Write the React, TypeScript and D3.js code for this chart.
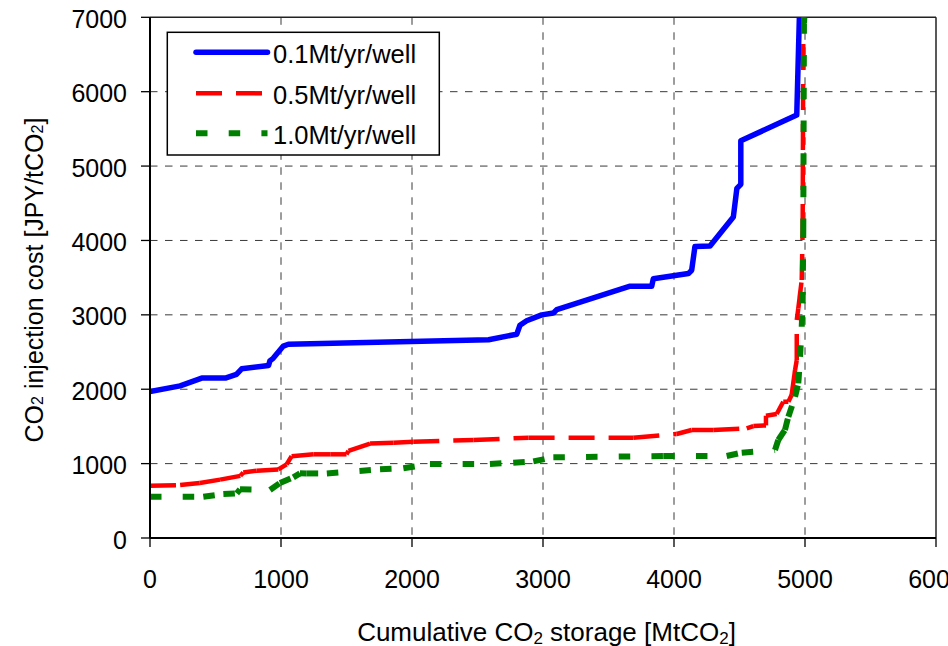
import React from "react";
import * as d3 from "d3";

// Injection cost supply curves: cumulative storage [MtCO2] vs cost [JPY/tCO2]
const rate01: [number, number][] = [
  [0, 1970], [230, 2045], [395, 2150], [575, 2150], [660, 2200], [700, 2275],
  [905, 2320], [915, 2380], [940, 2415], [1018, 2580], [1056, 2605], [2585, 2665],
  [2800, 2740], [2824, 2860], [2875, 2920], [2990, 3000], [3080, 3025], [3105, 3070],
  [3665, 3385], [3830, 3385], [3842, 3485], [4110, 3555], [4135, 3600], [4160, 3920],
  [4275, 3925], [4350, 4090], [4453, 4315], [4480, 4700], [4510, 4755], [4510, 5340],
  [4937, 5685], [4957, 7000],
];

const rate05: [number, number][] = [
  [0, 703], [230, 712], [380, 740], [535, 785], [690, 835], [712, 880], [815, 905],
  [980, 922], [1043, 990], [1081, 1100], [1250, 1125], [1380, 1125], [1500, 1125],
  [1515, 1170], [1680, 1270], [1860, 1280], [2010, 1294], [2470, 1317], [2890, 1348],
  [3690, 1348], [4020, 1398], [4135, 1452], [4300, 1452], [4555, 1474], [4606, 1505],
  [4702, 1514], [4702, 1644], [4784, 1667], [4834, 1832], [4873, 1832], [4898, 1922],
  [4924, 2258], [4937, 2392], [4937, 2930], [4949, 3087], [4975, 3468], [4982, 4140],
  [4987, 6830], [4990, 7000],
];

const rate10: [number, number][] = [
  [0, 555], [407, 555], [560, 590], [662, 600], [687, 654], [916, 645], [992, 740],
  [1094, 815], [1145, 869], [1196, 868], [1350, 868], [1756, 923], [1934, 937],
  [2137, 995], [2595, 995], [2773, 1012], [2926, 1030], [3079, 1085], [3918, 1102],
  [4402, 1102], [4517, 1147], [4771, 1183], [4796, 1317], [4847, 1452], [4873, 1630],
  [4924, 1899], [4949, 2079], [4962, 2437], [4975, 2840], [4982, 3154], [4987, 4140],
  [4992, 6918], [4995, 7000],
];

const xTicks = [0, 1000, 2000, 3000, 4000, 5000, 6000];
const yTicks = [0, 1000, 2000, 3000, 4000, 5000, 6000, 7000];
const seriesNames = ["0.1Mt/yr/well", "0.5Mt/yr/well", "1.0Mt/yr/well"];

const W = 948;
const H = 646;
const M = { left: 150, right: 936, top: 17.3, bottom: 538 };
const FONT = "'Liberation Sans', Arial, sans-serif";

const x = d3.scaleLinear().domain([0, 6000]).range([M.left, M.right]);
const y = d3.scaleLinear().domain([0, 7000]).range([M.bottom, M.top]);

const line = d3
  .line<[number, number]>()
  .x((d) => x(d[0]))
  .y((d) => y(d[1]));

type Style = { color: string; width: number; dash?: string; cap: "round" | "butt" };

const styles: Style[] = [
  { color: "#0000ff", width: 5.5, cap: "round" },
  { color: "#ff0000", width: 4.5, dash: "26,14", cap: "butt" },
  { color: "#008000", width: 6, dash: "11.5,21.2", cap: "butt" },
];

// Dashed series restart their pattern on every segment
function Series({ data, s }: { data: [number, number][]; s: Style }) {
  if (!s.dash) {
    return (
      <path
        d={line(data) ?? ""}
        fill="none"
        stroke={s.color}
        strokeWidth={s.width}
        strokeLinejoin="round"
        strokeLinecap={s.cap}
      />
    );
  }
  return (
    <g>
      {d3.pairs(data).map((p, i) => (
        <path
          key={i}
          d={line(p) ?? ""}
          fill="none"
          stroke={s.color}
          strokeWidth={s.width}
          strokeDasharray={s.dash}
          strokeLinecap={s.cap}
        />
      ))}
    </g>
  );
}

export default function App() {
  const all = [rate01, rate05, rate10];
  const legendX0 = 196;
  const legendX1 = 267.5;
  const legendY = [52.3, 93.3, 133.3];
  return (
    <svg
      width={W}
      height={H}
      style={{ position: "absolute", left: 0, top: 0, background: "#fff" }}
      fontFamily={FONT}
    >
      <rect width={W} height={H} fill="#fff" />
      <defs>
        <clipPath id="plot">
          <rect x={M.left} y={M.top} width={M.right - M.left} height={M.bottom - M.top} />
        </clipPath>
      </defs>

      {/* grid */}
      <g stroke="#3a3a3a" strokeWidth={1} strokeDasharray="7.5,7.5">
        {xTicks.slice(1, -1).map((t) => (
          <line key={"gx" + t} x1={x(t)} x2={x(t)} y1={M.top} y2={M.bottom} />
        ))}
        {yTicks.slice(1, -1).map((t) => (
          <line key={"gy" + t} x1={M.left} x2={M.right} y1={y(t)} y2={y(t)} />
        ))}
      </g>

      {/* frame */}
      <line x1={M.left} x2={M.right} y1={M.top} y2={M.top} stroke="#222" strokeWidth={1.5} />
      <line x1={M.right} x2={M.right} y1={M.top} y2={M.bottom} stroke="#222" strokeWidth={1.5} />

      {/* series */}
      <g clipPath="url(#plot)">
        {all.map((d, i) => (
          <Series key={i} data={d} s={styles[i]} />
        ))}
      </g>

      {/* axes */}
      <line x1={M.left} x2={M.left} y1={M.top} y2={M.bottom} stroke="#000" strokeWidth={2} />
      <line x1={M.left} x2={M.right} y1={M.bottom} y2={M.bottom} stroke="#000" strokeWidth={2} />
      <g stroke="#000" strokeWidth={1.3}>
        {yTicks.map((t) => (
          <line key={"ty" + t} x1={M.left - 9} x2={M.left} y1={y(t)} y2={y(t)} />
        ))}
        {xTicks.map((t) => (
          <line key={"tx" + t} x1={x(t)} x2={x(t)} y1={M.bottom} y2={M.bottom + 9} />
        ))}
      </g>

      <g fontSize={25} fill="#000">
        {yTicks.map((t) => (
          <text key={"ly" + t} x={127} y={y(t) + 10.5} textAnchor="end">
            {t}
          </text>
        ))}
        {xTicks.map((t) => (
          <text key={"lx" + t} x={x(t)} y={588} textAnchor="middle">
            {t}
          </text>
        ))}
      </g>

      {/* axis titles */}
      <text x={546.5} y={640.5} fontSize={26} textAnchor="middle">
        Cumulative CO
        <tspan fontSize={17} dy={3.5}>2</tspan>
        <tspan dy={-3.5}> storage [MtCO</tspan>
        <tspan fontSize={17} dy={3.5}>2</tspan>
        <tspan dy={-3.5}>]</tspan>
      </text>
      <text transform="translate(43,280) rotate(-90)" fontSize={25} textAnchor="middle">
        CO<tspan fontSize={16}>2</tspan> injection cost [JPY/tCO<tspan fontSize={16}>2</tspan>]
      </text>

      {/* legend */}
      <rect x={167.3} y={32.3} width={272} height={122.7} fill="#fff" stroke="#000" strokeWidth={1.5} />
      {styles.map((s, i) => (
        <g key={"lg" + i}>
          <line
            x1={legendX0}
            x2={legendX1}
            y1={legendY[i]}
            y2={legendY[i]}
            stroke={s.color}
            strokeWidth={s.width}
            strokeDasharray={s.dash}
            strokeLinecap={s.cap}
          />
          <text x={273} y={legendY[i] + 10.2} fontSize={25.5}>
            {seriesNames[i]}
          </text>
        </g>
      ))}
    </svg>
  );
}
